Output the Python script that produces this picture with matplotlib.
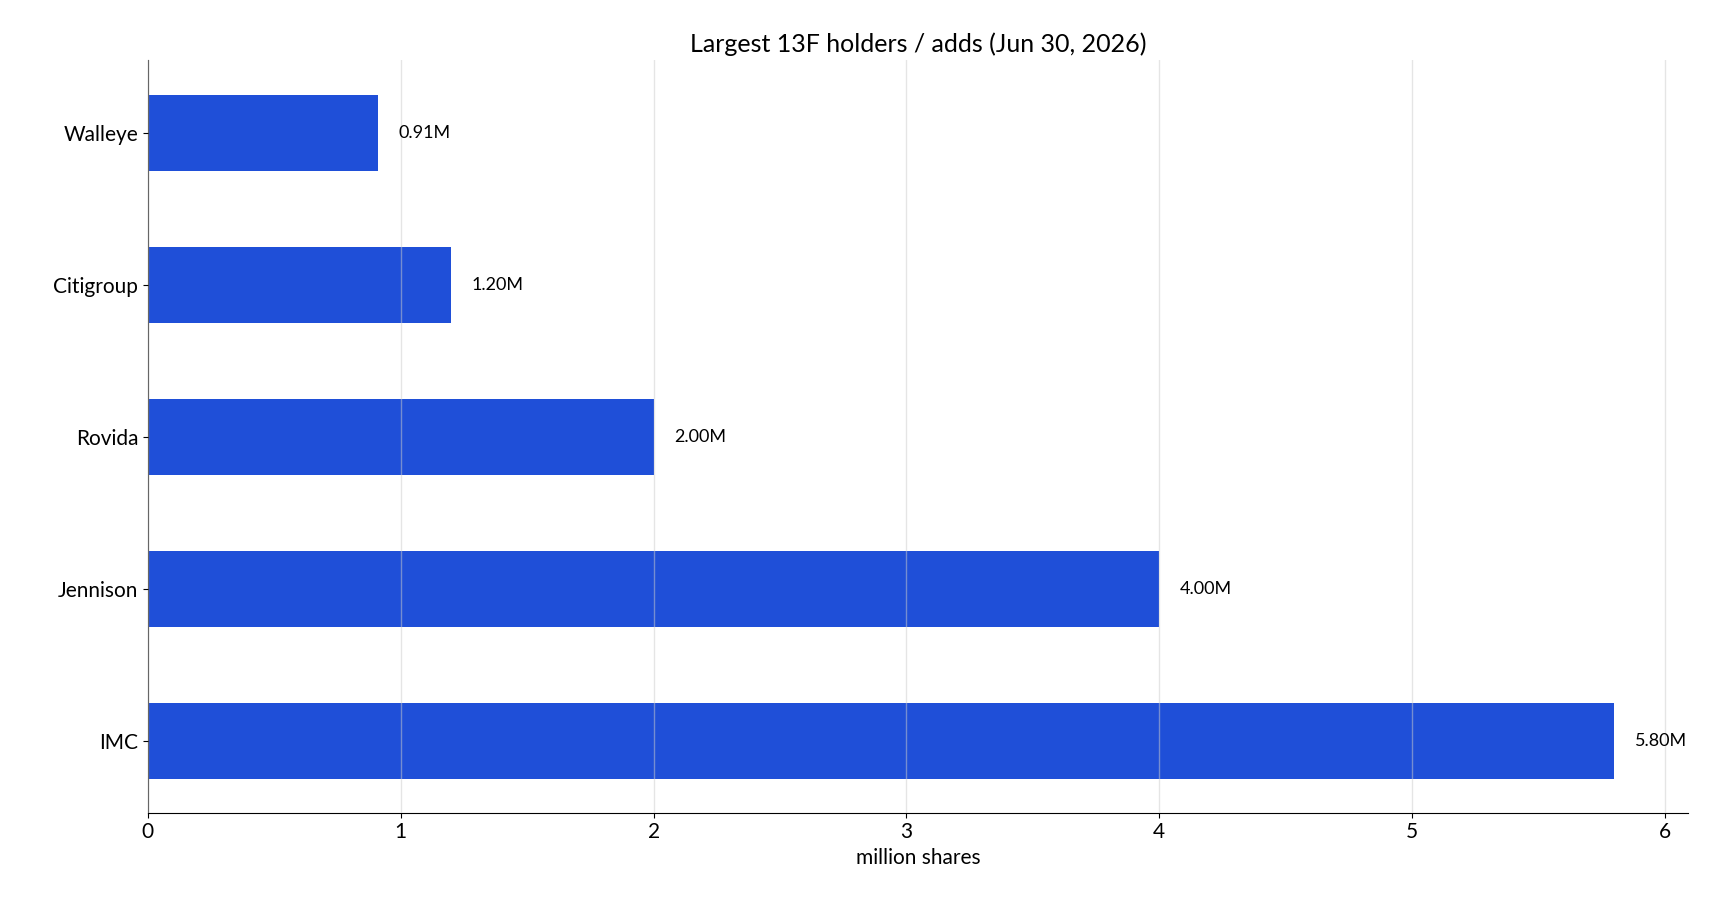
import matplotlib.pyplot as plt

holders = ["IMC", "Jennison", "Rovida", "Citigroup", "Walleye"]
shares_m = [5.80, 4.00, 2.00, 1.20, 0.91]
labels = ["5.80M", "4.00M", "2.00M", "1.20M", "0.91M"]

plt.rcParams['font.family'] = ['Lato', 'DejaVu Sans']

fig, ax = plt.subplots(figsize=(17.1, 9.02), dpi=100)
bars = ax.barh(holders, shares_m, height=0.5, color="#1f4fd8", zorder=1)
for bar, lab in zip(bars, labels):
    ax.text(bar.get_width() + 0.08, bar.get_y() + bar.get_height() / 2, lab,
            va="center", ha="left", fontsize=13)

ax.set_xlim(0, 6.09)
ax.grid(axis="x", color="#cccccc", alpha=0.5, linewidth=1, zorder=2)
ax.set_axisbelow(False)
ax.spines["top"].set_visible(False)
ax.spines["right"].set_visible(False)
ax.spines["left"].set_color("black")
ax.spines["bottom"].set_color("black")
ax.tick_params(labelsize=15)
ax.set_xlabel("million shares", fontsize=15)
ax.set_title("Largest 13F holders / adds (Jun 30, 2026)", fontsize=18)

fig.subplots_adjust(left=0.0865, right=0.987, top=0.933, bottom=0.099)
fig.savefig("out.png", dpi=100)
